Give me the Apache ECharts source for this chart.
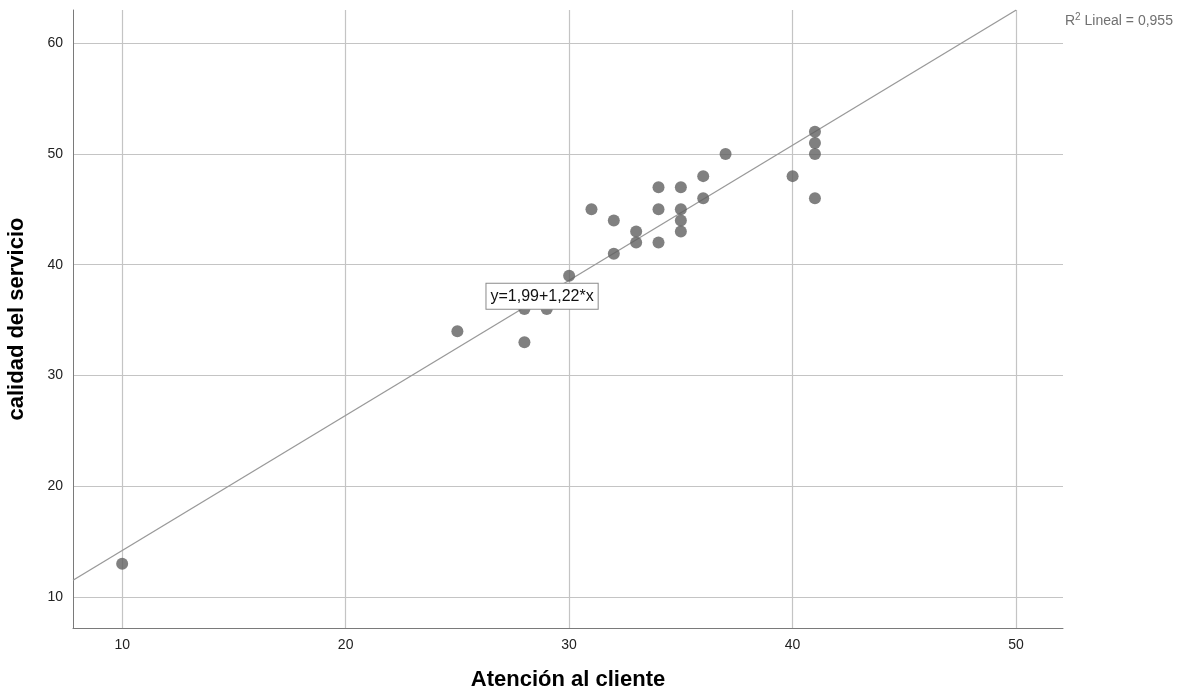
<!DOCTYPE html>
<html>
<head>
<meta charset="utf-8">
<script src="https://cdn.jsdelivr.net/npm/echarts@6/dist/echarts.min.js"></script>
<style>
html,body{margin:0;padding:0;background:#fff;}
#chart{width:1193px;height:693px;}
</style>
</head>
<body>
<div id="chart"></div>
<script>
// Data
const xValues = [10, 25, 28, 28, 29, 30, 31, 32, 32, 33, 33, 34, 34, 34, 35, 35, 35, 35, 36, 36, 37, 40, 41, 41, 41, 41];
const yValues = [13, 34, 36, 33, 36, 39, 45, 44, 41, 43, 42, 47, 45, 42, 47, 45, 44, 43, 48, 46, 50, 48, 52, 51, 50, 46];
const xTicks = [10, 20, 30, 40, 50];
const yTicks = [10, 20, 30, 40, 50, 60];
const fitIntercept = 1.99;
const fitSlope = 1.22;
const rSquared = '0,955';
const equationText = 'y=1,99+1,22*x';
const xTitle = 'Atención al cliente';
const yTitle = 'calidad del servicio';

const xMin = 7.8, xMax = 52.1, yMin = 7.2, yMax = 63.0;

const points = xValues.map((x, i) => [x, yValues[i]]);
const fitY = x => fitIntercept + fitSlope * x;
const fitXEnd = Math.min(xMax, (yMax - fitIntercept) / fitSlope);
const fitLine = [[xMin, fitY(xMin)], [fitXEnd, fitY(fitXEnd)]];

const font = '"Liberation Sans", Arial, sans-serif';
const chart = echarts.init(document.getElementById('chart'), null, {renderer: 'canvas'});
chart.setOption({
  animation: false,
  backgroundColor: '#fff',
  grid: {left: 73, right: 130, top: 10, bottom: 65, containLabel: false, outerBoundsMode: 'none'},
  xAxis: {
    type: 'value', min: xMin, max: xMax,
    name: xTitle, nameLocation: 'middle', nameGap: 41,
    nameTextStyle: {fontFamily: font, fontWeight: 'bold', fontSize: 22, color: '#000'},
    axisLine: {show: true, onZero: false, lineStyle: {color: '#7a7a7a', width: 1}},
    axisTick: {show: false, customValues: xTicks},
    axisLabel: {customValues: xTicks, fontFamily: font, fontSize: 14, color: '#222', margin: 10},
    splitLine: {show: true, lineStyle: {color: '#c4c4c4', width: 1.2}}
  },
  yAxis: {
    type: 'value', min: yMin, max: yMax,
    name: yTitle, nameLocation: 'middle', nameGap: 45, nameRotate: 90,
    nameTextStyle: {fontFamily: font, fontWeight: 'bold', fontSize: 22, color: '#000'},
    axisLine: {show: true, onZero: false, lineStyle: {color: '#7a7a7a', width: 1}},
    axisTick: {show: false, customValues: yTicks},
    axisLabel: {customValues: yTicks, fontFamily: font, fontSize: 14, color: '#222', margin: 10},
    splitLine: {show: true, lineStyle: {color: '#c4c4c4', width: 1.2}}
  },
  series: [
    {
      type: 'line', data: fitLine, symbol: 'none', silent: true,
      lineStyle: {color: '#999999', width: 1.3}, z: 2,
      markPoint: {
        symbol: 'rect', symbolSize: 0, silent: true,
        data: [{coord: [28.79, 37.15], value: equationText}],
        label: {
          show: true, position: 'inside', formatter: equationText,
          fontFamily: font, fontSize: 16, color: '#111',
          backgroundColor: '#fff', borderColor: '#8a8a8a', borderWidth: 1,
          padding: [5, 4, 4, 4]
        }
      }
    },
    {
      type: 'scatter', data: points, symbol: 'circle', symbolSize: 12,
      itemStyle: {color: '#606060'}, z: 3
    }
  ],
  graphic: [{
    type: 'text', left: 1065, top: 12,
    style: {
      text: '{r|R}{s|2}{r| Lineal = ' + rSquared + '}',
      rich: {
        r: {fontFamily: font, fontSize: 14, fill: '#707070', verticalAlign: 'bottom'},
        s: {fontFamily: font, fontSize: 10, fill: '#707070', verticalAlign: 'top', padding: [0, 0, 6, 0]}
      }
    }
  }]
});
</script>
</body>
</html>
